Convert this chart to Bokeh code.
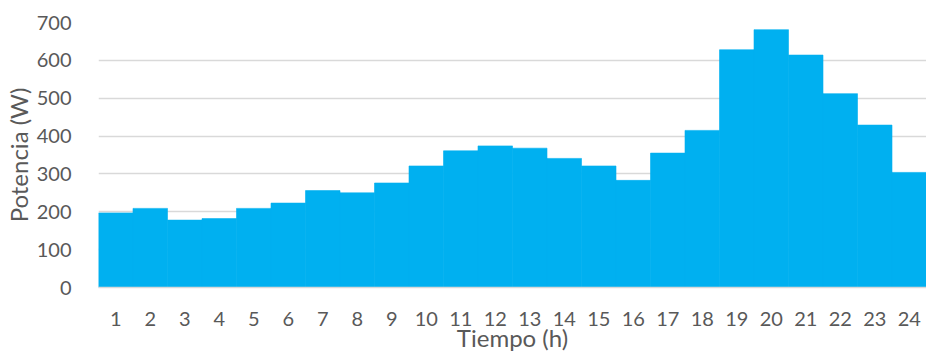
from bokeh.plotting import figure
from bokeh.models import Range1d, FixedTicker, ColumnDataSource, Title
from bokeh.embed import file_html
from bokeh.resources import INLINE

hours = list(range(1, 25))
power = [197, 209, 178, 182, 209, 223, 256, 250, 276, 321, 361, 374,
         368, 341, 321, 283, 355, 415, 628, 681, 614, 512, 429, 304]
y_ticks = [0, 100, 200, 300, 400, 500, 600, 700]
x_label = "Tiempo (h)"
y_label = "Potencia (W)"

FONT = "Lato"
TXT = "#595959"
GRID = "#D9D9D9"
BAR = "#00B0F0"

src = ColumnDataSource(dict(x=hours, top=power))

p = figure(width=926, height=354, output_backend="svg", toolbar_location=None,
           x_range=Range1d(0.5, 24.5), y_range=Range1d(0, 700),
           min_border_left=98, min_border_right=0, min_border_top=22,
           min_border_bottom=67)
p.outline_line_color = None
p.background_fill_color = "white"
p.border_fill_color = "white"

p.vbar(x="x", top="top", width=1.0, bottom=0, source=src,
       fill_color=BAR, line_color=BAR, line_width=0.6)

p.xgrid.grid_line_color = None
p.ygrid.grid_line_color = GRID
p.ygrid.grid_line_width = 1.5
p.ygrid.ticker = FixedTicker(ticks=y_ticks)

p.yaxis.ticker = FixedTicker(ticks=y_ticks)
p.xaxis.ticker = FixedTicker(ticks=hours)

for ax in (p.xaxis, p.yaxis):
    ax.major_tick_line_color = None
    ax.minor_tick_line_color = None
    ax.major_label_text_font = FONT
    ax.major_label_text_font_size = "20px"
    ax.major_label_text_color = TXT
    ax.axis_label_text_font = FONT
    ax.axis_label_text_font_size = "24px"
    ax.axis_label_text_font_style = "normal"
    ax.axis_label_text_color = TXT

p.yaxis.axis_line_color = None
p.xaxis.axis_line_color = GRID
p.xaxis.axis_line_width = 1.5

p.xaxis.axis_label = x_label
p.yaxis.major_label_standoff = 21
p.xaxis.major_label_standoff = 18
p.xaxis.axis_label_standoff = -6

yt = Title(text=y_label, align="center", offset=-11, standoff=2,
           text_font=FONT, text_font_size="24px", text_font_style="normal",
           text_color=TXT)
p.add_layout(yt, "left")

open("out.html", "w").write(file_html(p, INLINE))
